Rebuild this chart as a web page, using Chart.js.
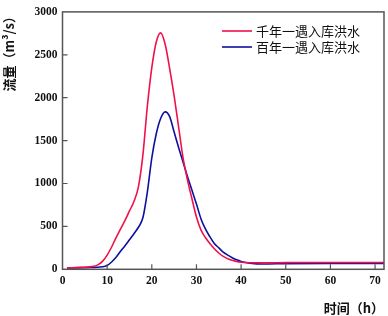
<!DOCTYPE html>
<html><head><meta charset="utf-8">
<script src="https://cdn.jsdelivr.net/npm/chart.js@4.4.1/dist/chart.umd.min.js"></script>
<style>html,body{margin:0;padding:0;background:#fff}#wrap{width:388px;height:316px}</style>
</head><body><div id="wrap"><canvas id="c" width="388" height="316"></canvas></div>
<script>
const seriesNames = ['千年一遇入库洪水', '百年一遇入库洪水'];
const hoursRed = [1,4,7,8,9,10,11,12,13,14,15,16,17,18,19,20,21,22,23,24,25,26,27,28,29,30,31,32,33,34,35,36,37,38,39,40,42,45,50,55,60,65,72];
const flowRed  = [15,22,35,55,95,165,260,370,470,570,680,790,960,1330,1900,2350,2650,2755,2620,2340,2020,1660,1300,1040,820,610,460,370,300,240,190,150,122,105,90,82,76,75,78,80,80,80,80];
const hoursBlue = [1,5,9,10,11,12,13,14,15,16,17,18,19,20,21,22,23,24,25,26,27,28,29,30,31,32,33,34,35,36,37,38,39,40,42,45,50,60,72];
const flowBlue  = [15,20,30,45,85,140,210,275,345,415,490,600,900,1300,1580,1760,1835,1780,1600,1420,1250,1080,920,760,590,470,380,300,250,200,165,135,110,92,72,62,66,68,68];
const xTicks = [0,10,20,30,40,50,60,70];
const yTicks = [0,500,1000,1500,2000,2500,3000];
const xTitle = '时间（h）';
const yTitle = '流量（m³/s）';

const tickFont = {family:"'Liberation Serif', 'Times New Roman', serif", size:11.5, weight:'bold'};

const framePlugin = {
  id:'frame',
  afterDraw(chart){
    const ctx = chart.ctx, a = chart.chartArea, xs = chart.scales.x, ys = chart.scales.y;
    ctx.save();
    ctx.strokeStyle = '#555'; ctx.lineWidth = 1.5;
    ctx.strokeRect(a.left, a.top, a.right-a.left, a.bottom-a.top);
    ctx.lineWidth = 1.2;
    ctx.beginPath();
    xTicks.forEach(v=>{ if(v===0) return; const p = xs.getPixelForValue(v); ctx.moveTo(p, a.bottom); ctx.lineTo(p, a.bottom-5); });
    yTicks.forEach(v=>{ if(v===0||v===3000) return; const p = ys.getPixelForValue(v); ctx.moveTo(a.left, p); ctx.lineTo(a.left+5, p); });
    ctx.stroke();
    // legend
    ctx.font = '13px "Noto Sans CJK SC", sans-serif';
    ctx.textBaseline = 'middle'; ctx.textAlign = 'left';
    const items = [{c:'#f0104a', y:31, t:seriesNames[0]},{c:'#1010a0', y:47, t:seriesNames[1]}];
    items.forEach(it=>{
      ctx.strokeStyle = it.c; ctx.lineWidth = 1.6;
      ctx.beginPath(); ctx.moveTo(222, it.y); ctx.lineTo(252, it.y); ctx.stroke();
      ctx.fillStyle = '#111'; ctx.fillText(it.t, 256, it.y);
    });
    // x title
    ctx.font = 'bold 13px "Noto Sans CJK SC", sans-serif';
    ctx.textAlign = 'right'; ctx.fillStyle = '#111';
    ctx.fillText(xTitle, 384, 308);
    // y title
    ctx.translate(9, 10); ctx.rotate(-Math.PI/2);
    ctx.textAlign = 'right';
    ctx.fillText(yTitle, 0, 0);
    ctx.restore();
  }
};

new Chart(document.getElementById('c'), {
  type:'line',
  data:{datasets:[
    {label:seriesNames[0], data:hoursRed.map((x,i)=>({x, y:flowRed[i]})), borderColor:'#f0104a', borderWidth:1.6, pointRadius:0, cubicInterpolationMode:'monotone', fill:false},
    {label:seriesNames[1], data:hoursBlue.map((x,i)=>({x, y:flowBlue[i]})), borderColor:'#1010a0', borderWidth:1.6, pointRadius:0, cubicInterpolationMode:'monotone', fill:false}
  ]},
  options:{
    responsive:false, animation:false, devicePixelRatio:1,
    layout:{padding:{top:10, right:4, left:0, bottom:0}},
    plugins:{legend:{display:false}, tooltip:{enabled:false}},
    scales:{
      x:{type:'linear', min:0, max:72,
        afterBuildTicks(s){ s.ticks = xTicks.map(v=>({value:v})); },
        afterFit(s){ s.height = 46.7; },
        grid:{display:false, drawTicks:false}, border:{display:false},
        ticks:{font:tickFont, color:'#111', padding:5, maxRotation:0, callback:v=>String(v)}},
      y:{type:'linear', min:0, max:3000,
        afterBuildTicks(s){ s.ticks = yTicks.map(v=>({value:v})); },
        afterFit(s){ s.width = 62.5; },
        grid:{display:false, drawTicks:false}, border:{display:false},
        ticks:{font:tickFont, color:'#111', padding:5, callback:v=>String(v)}}
    }
  },
  plugins:[framePlugin]
});
</script></body></html>
